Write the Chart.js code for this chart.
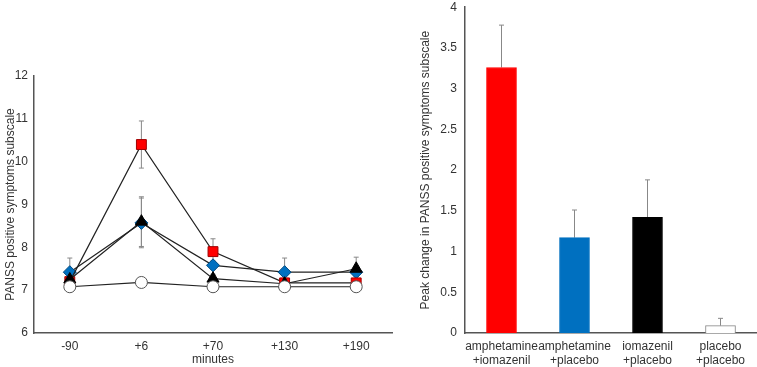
<!DOCTYPE html>
<html>
<head>
<meta charset="utf-8">
<script src="https://cdn.jsdelivr.net/npm/chart.js@4.4.0/dist/chart.umd.min.js"></script>
<style>
  body { margin: 0; background: #fff; overflow: hidden; }
  #left { position: absolute; left: 0; top: 0; }
  #right { position: absolute; left: 400px; top: -8px; }
</style>
</head>
<body>
<canvas id="left" width="400" height="367"></canvas>
<canvas id="right" width="357" height="375"></canvas>
<script>
// time course (left panel)
const minutes = ["-90", "+6", "+70", "+130", "+190"];
const ampIom = [7.2, 10.4, 7.9, 7.17, 7.17];
const ampIomErr = [0.1, 0.55, 0.3, 0.05, 0.05];
const ampPla = [7.42, 8.57, 7.58, 7.42, 7.42];
const ampPlaErr = [0.33, 0.58, 0.1, 0.33, 0.1];
const iomPla = [7.25, 8.6, 7.27, 7.15, 7.5];
const iomPlaErr = [0.1, 0.58, 0.1, 0.05, 0.27];
const plaPla = [7.08, 7.18, 7.08, 7.08, 7.08];
const plaPlaErr = [0.05, 0.05, 0.05, 0.05, 0.05];

// peak change (right panel)
const groups = [["amphetamine", "+iomazenil"], ["amphetamine", "+placebo"], ["iomazenil", "+placebo"], ["placebo", "+placebo"]];
const peakChange = [3.26, 1.17, 1.42, 0.09];
const peakErr = [0.52, 0.34, 0.46, 0.09];
const barColors = ["#ff0000", "#0070c0", "#000000", "#ffffff"];

const font = { family: "'Liberation Sans', Arial, sans-serif", size: 12 };
const axisColor = "#555";
const textColor = "#333";

// draws error bars from the dataset's err array, behind the marks
const errorBars = {
  id: "errorBars",
  beforeDatasetsDraw(chart) {
    const ctx = chart.ctx;
    const yScale = chart.scales.y;
    ctx.save();
    ctx.strokeStyle = "#888";
    ctx.lineWidth = 1;
    chart.data.datasets.forEach((ds, di) => {
      if (!ds.err) return;
      const meta = chart.getDatasetMeta(di);
      meta.data.forEach((el, i) => {
        const v = ds.data[i], e = ds.err[i];
        const top = yScale.getPixelForValue(v + e);
        const bot = ds.upOnly ? yScale.getPixelForValue(v) : yScale.getPixelForValue(v - e);
        ctx.beginPath();
        ctx.moveTo(el.x, top);
        ctx.lineTo(el.x, bot);
        ctx.moveTo(el.x - 2.5, top);
        ctx.lineTo(el.x + 2.5, top);
        if (!ds.upOnly) {
          ctx.moveTo(el.x - 2.5, bot);
          ctx.lineTo(el.x + 2.5, bot);
        }
        ctx.stroke();
      });
    });
    ctx.restore();
  },
};

const lineSet = (data, err, style, bg, border, radius, order) => ({
  data: data,
  err: err,
  pointStyle: style,
  backgroundColor: bg,
  pointBackgroundColor: bg,
  pointBorderColor: border,
  pointBorderWidth: 1,
  pointRadius: radius,
  borderColor: "#222",
  borderWidth: 1.2,
  tension: 0,
  order: order,
});

new Chart(document.getElementById("left"), {
  type: "line",
  data: {
    labels: minutes,
    datasets: [
      lineSet(plaPla, plaPlaErr, "circle", "#ffffff", "#555", 6, 1),
      lineSet(iomPla, iomPlaErr, "triangle", "#000000", "#000", 7, 2),
      lineSet(ampIom, ampIomErr, "rect", "#ff0000", "#a00000", 7, 3),
      lineSet(ampPla, ampPlaErr, "rectRot", "#0070c0", "#004a80", 6.5, 4),
    ],
  },
  options: {
    responsive: false,
    animation: false,
    layout: { padding: { top: 76, right: 2, left: 3, bottom: 0 } },
    plugins: { legend: { display: false }, tooltip: { enabled: false } },
    scales: {
      x: {
        offset: true,
        grid: { display: false, drawTicks: false },
        border: { color: axisColor, width: 1.5 },
        ticks: { color: textColor, font: font, padding: 6 },
        title: { display: true, text: "minutes", color: textColor, font: font, padding: { top: 4, bottom: 0 } },
        afterFit(s) { s.height = 34; },
      },
      y: {
        min: 6,
        max: 12,
        grid: { display: false, drawTicks: false },
        border: { color: axisColor, width: 1.5 },
        ticks: { stepSize: 1, color: textColor, font: font, padding: 6 },
        title: { display: true, text: "PANSS positive symptoms subscale", color: textColor, font: font, padding: 0 },
        afterFit(s) { s.width = 31; },
      },
    },
  },
  plugins: [errorBars],
});

new Chart(document.getElementById("right"), {
  type: "bar",
  data: {
    labels: groups,
    datasets: [{
      data: peakChange,
      err: peakErr,
      upOnly: true,
      backgroundColor: barColors,
      borderColor: ["#ff0000", "#0070c0", "#000000", "#888888"],
      borderWidth: 1,
      barThickness: 30,
    }],
  },
  options: {
    responsive: false,
    animation: false,
    layout: { padding: { top: 0, right: 0, left: 18, bottom: 0 } },
    plugins: { legend: { display: false }, tooltip: { enabled: false } },
    scales: {
      x: {
        grid: { display: false, drawTicks: false },
        border: { color: axisColor, width: 1.5 },
        ticks: { color: textColor, font: font, padding: 6, maxRotation: 0, minRotation: 0, autoSkip: false },
        afterFit(s) { s.height = 34; },
      },
      y: {
        min: 0,
        max: 4,
        grid: { display: false, drawTicks: false },
        border: { color: axisColor, width: 1.5 },
        ticks: { stepSize: 0.5, color: textColor, font: font, padding: 8, callback: (v) => String(v) },
        title: { display: true, text: "Peak change in PANSS positive symptoms subscale", color: textColor, font: font, padding: 0 },
        afterFit(s) { s.width = 47; },
      },
    },
  },
  plugins: [errorBars],
});
</script>
</body>
</html>
